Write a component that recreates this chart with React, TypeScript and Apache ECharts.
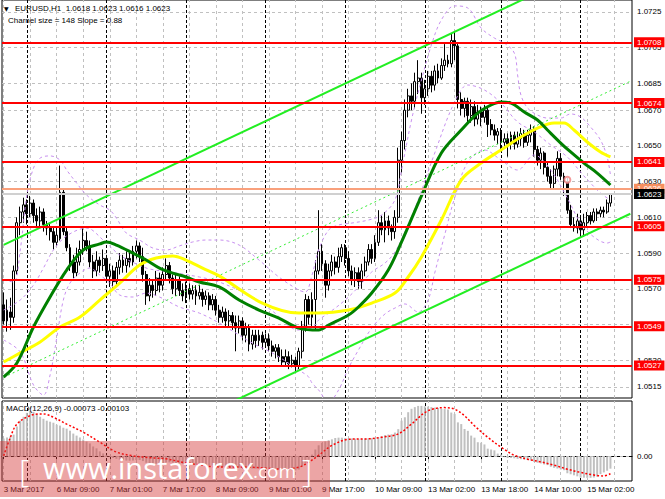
import React, { useEffect, useRef } from 'react';
import * as echarts from 'echarts';

const FONT = "'Liberation Sans', Arial, sans-serif";

// ---------- axis data ----------
const categories = Array.from({ length: 190 }, (_, i) => String(i));
const xTickLabels: [number, string][] = [
  [0, '3 Mar 2017'], [16, '6 Mar 09:00'], [32, '7 Mar 01:00'], [48, '7 Mar 17:00'],
  [64, '8 Mar 09:00'], [80, '9 Mar 01:00'], [96, '9 Mar 17:00'], [112, '10 Mar 09:00'],
  [128, '13 Mar 02:00'], [144, '13 Mar 18:00'], [160, '14 Mar 10:00'], [176, '15 Mar 02:00'],
];
const gridBars = [0, 8, 16, 24, 32, 40, 48, 56, 64, 72, 80, 88, 96, 104, 112, 120, 128, 136, 144, 152, 160, 168, 176, 184];
const daySeparators = [7, 31, 55, 79, 103, 127, 150, 174];
const priceTicks = [1.0725, 1.0705, 1.0685, 1.067, 1.065, 1.063, 1.061, 1.059, 1.057, 1.055, 1.053, 1.0515];
const levels = [1.0708, 1.0674, 1.0641, 1.0605, 1.0575, 1.0549, 1.0527];
const askPrice = 1.0626;
const bidPrice = 1.0623;
const macdTicks = [0.00297, 0, -0.00144];
const channelInfo = { size: 148, slope: 0.88 };

// ---------- candles [open, close, low, high] ----------
const candles: number[][] = [
  [1.0561, 1.0552, 1.0550, 1.0568], [1.0552, 1.0558, 1.0546, 1.0564], [1.0557, 1.0554, 1.0547, 1.0565], [1.0554, 1.0580, 1.0551, 1.0583],
  [1.0580, 1.0607, 1.0578, 1.0610], [1.0607, 1.0613, 1.0600, 1.0616], [1.0613, 1.0617, 1.0607, 1.0621], [1.0617, 1.0612, 1.0606, 1.0620],
  [1.0612, 1.0618, 1.0610, 1.0622], [1.0618, 1.0611, 1.0607, 1.0620], [1.0611, 1.0608, 1.0604, 1.0615], [1.0608, 1.0613, 1.0605, 1.0616],
  [1.0613, 1.0606, 1.0602, 1.0615], [1.0606, 1.0604, 1.0600, 1.0608], [1.0604, 1.0602, 1.0597, 1.0607], [1.0602, 1.0596, 1.0592, 1.0604],
  [1.0596, 1.0600, 1.0594, 1.0604], [1.0598, 1.0624, 1.0597, 1.0639], [1.0624, 1.0602, 1.0600, 1.0626], [1.0602, 1.0593, 1.0591, 1.0604],
  [1.0593, 1.0585, 1.0580, 1.0595], [1.0585, 1.0579, 1.0576, 1.0589], [1.0579, 1.0585, 1.0577, 1.0593], [1.0585, 1.0592, 1.0583, 1.0597],
  [1.0592, 1.0597, 1.0589, 1.0605], [1.0597, 1.0594, 1.0591, 1.0602], [1.0594, 1.0585, 1.0582, 1.0597], [1.0585, 1.0580, 1.0576, 1.0589],
  [1.0580, 1.0586, 1.0577, 1.0591], [1.0586, 1.0583, 1.0579, 1.0588], [1.0583, 1.0587, 1.0580, 1.0592], [1.0587, 1.0577, 1.0574, 1.0589],
  [1.0577, 1.0580, 1.0571, 1.0584], [1.0580, 1.0574, 1.0570, 1.0583], [1.0574, 1.0582, 1.0572, 1.0585], [1.0582, 1.0586, 1.0578, 1.0590],
  [1.0586, 1.0583, 1.0579, 1.0589], [1.0583, 1.0587, 1.0579, 1.0591], [1.0587, 1.0585, 1.0582, 1.0591], [1.0585, 1.0591, 1.0583, 1.0594],
  [1.0591, 1.0594, 1.0587, 1.0597], [1.0594, 1.0588, 1.0585, 1.0596], [1.0588, 1.0578, 1.0574, 1.0593], [1.0578, 1.0566, 1.0561, 1.0580],
  [1.0566, 1.0572, 1.0563, 1.0576], [1.0572, 1.0569, 1.0565, 1.0575], [1.0569, 1.0576, 1.0566, 1.0580], [1.0576, 1.0572, 1.0568, 1.0579],
  [1.0572, 1.0578, 1.0569, 1.0582], [1.0578, 1.0583, 1.0575, 1.0587], [1.0583, 1.0576, 1.0573, 1.0585], [1.0576, 1.0570, 1.0567, 1.0578],
  [1.0570, 1.0575, 1.0566, 1.0578], [1.0575, 1.0569, 1.0566, 1.0577], [1.0569, 1.0566, 1.0563, 1.0573], [1.0566, 1.0570, 1.0562, 1.0574],
  [1.0570, 1.0567, 1.0564, 1.0573], [1.0567, 1.0569, 1.0564, 1.0572], [1.0569, 1.0566, 1.0561, 1.0572], [1.0566, 1.0568, 1.0564, 1.0572],
  [1.0568, 1.0564, 1.0560, 1.0570], [1.0564, 1.0566, 1.0561, 1.0569], [1.0566, 1.0561, 1.0558, 1.0568], [1.0561, 1.0564, 1.0558, 1.0567],
  [1.0564, 1.0558, 1.0555, 1.0566], [1.0558, 1.0554, 1.0551, 1.0561], [1.0554, 1.0557, 1.0551, 1.0560], [1.0557, 1.0552, 1.0549, 1.0559],
  [1.0552, 1.0555, 1.0549, 1.0558], [1.0555, 1.0551, 1.0547, 1.0557], [1.0551, 1.0548, 1.0535, 1.0555], [1.0548, 1.0552, 1.0545, 1.0555],
  [1.0552, 1.0544, 1.0541, 1.0554], [1.0544, 1.0548, 1.0540, 1.0551], [1.0548, 1.0539, 1.0535, 1.0550], [1.0539, 1.0544, 1.0536, 1.0547],
  [1.0544, 1.0541, 1.0537, 1.0547], [1.0541, 1.0544, 1.0538, 1.0547], [1.0544, 1.0540, 1.0536, 1.0546], [1.0540, 1.0542, 1.0537, 1.0545],
  [1.0542, 1.0538, 1.0535, 1.0545], [1.0538, 1.0535, 1.0532, 1.0541], [1.0535, 1.0537, 1.0531, 1.0539], [1.0537, 1.0532, 1.0529, 1.0539],
  [1.0532, 1.0529, 1.0527, 1.0536], [1.0529, 1.0532, 1.0527, 1.0536], [1.0532, 1.0528, 1.0525, 1.0535], [1.0528, 1.0530, 1.0526, 1.0533],
  [1.0530, 1.0527, 1.0524, 1.0532], [1.0527, 1.0535, 1.0525, 1.0537], [1.0535, 1.0549, 1.0531, 1.0552], [1.0549, 1.0564, 1.0546, 1.0567],
  [1.0564, 1.0554, 1.0550, 1.0566], [1.0554, 1.0564, 1.0549, 1.0568], [1.0564, 1.0580, 1.0547, 1.0586], [1.0580, 1.0591, 1.0578, 1.0614],
  [1.0591, 1.0584, 1.0580, 1.0595], [1.0584, 1.0572, 1.0565, 1.0586], [1.0572, 1.0580, 1.0569, 1.0584], [1.0580, 1.0585, 1.0577, 1.0589],
  [1.0585, 1.0582, 1.0578, 1.0588], [1.0582, 1.0588, 1.0579, 1.0593], [1.0588, 1.0593, 1.0585, 1.0595], [1.0593, 1.0587, 1.0583, 1.0595],
  [1.0587, 1.0580, 1.0577, 1.0591], [1.0580, 1.0575, 1.0572, 1.0583], [1.0575, 1.0579, 1.0571, 1.0582], [1.0579, 1.0574, 1.0570, 1.0582],
  [1.0574, 1.0580, 1.0570, 1.0584], [1.0580, 1.0585, 1.0577, 1.0588], [1.0585, 1.0592, 1.0583, 1.0595], [1.0592, 1.0587, 1.0584, 1.0595],
  [1.0587, 1.0596, 1.0585, 1.0600], [1.0596, 1.0607, 1.0594, 1.0614], [1.0607, 1.0603, 1.0600, 1.0611], [1.0603, 1.0608, 1.0596, 1.0613],
  [1.0608, 1.0604, 1.0600, 1.0611], [1.0604, 1.0602, 1.0597, 1.0606], [1.0602, 1.0610, 1.0598, 1.0614], [1.0610, 1.0642, 1.0607, 1.0649],
  [1.0642, 1.0653, 1.0635, 1.0658], [1.0653, 1.0670, 1.0648, 1.0676], [1.0670, 1.0678, 1.0666, 1.0682], [1.0678, 1.0675, 1.0670, 1.0685],
  [1.0675, 1.0686, 1.0671, 1.0691], [1.0686, 1.0688, 1.0679, 1.0698], [1.0688, 1.0677, 1.0668, 1.0691], [1.0677, 1.0682, 1.0673, 1.0687],
  [1.0682, 1.0689, 1.0678, 1.0692], [1.0689, 1.0684, 1.0680, 1.0692], [1.0684, 1.0692, 1.0681, 1.0695], [1.0692, 1.0688, 1.0685, 1.0696],
  [1.0688, 1.0695, 1.0687, 1.0699], [1.0695, 1.0698, 1.0692, 1.0707], [1.0698, 1.0696, 1.0694, 1.0701], [1.0696, 1.0709, 1.0694, 1.0713],
  [1.0709, 1.0706, 1.0698, 1.0714], [1.0706, 1.0676, 1.0671, 1.0708], [1.0676, 1.0671, 1.0667, 1.0680], [1.0671, 1.0675, 1.0666, 1.0677],
  [1.0675, 1.0667, 1.0663, 1.0677], [1.0667, 1.0672, 1.0663, 1.0676], [1.0672, 1.0665, 1.0661, 1.0675], [1.0665, 1.0669, 1.0662, 1.0673],
  [1.0669, 1.0666, 1.0661, 1.0672], [1.0666, 1.0670, 1.0663, 1.0673], [1.0670, 1.0662, 1.0655, 1.0672], [1.0662, 1.0659, 1.0656, 1.0665],
  [1.0659, 1.0656, 1.0653, 1.0662], [1.0656, 1.0658, 1.0651, 1.0660], [1.0658, 1.0652, 1.0648, 1.0660], [1.0652, 1.0654, 1.0650, 1.0657],
  [1.0654, 1.0651, 1.0644, 1.0657], [1.0651, 1.0656, 1.0648, 1.0658], [1.0656, 1.0651, 1.0648, 1.0658], [1.0651, 1.0654, 1.0649, 1.0658],
  [1.0654, 1.0657, 1.0650, 1.0660], [1.0657, 1.0652, 1.0649, 1.0659], [1.0652, 1.0656, 1.0650, 1.0659], [1.0656, 1.0659, 1.0652, 1.0662],
  [1.0659, 1.0648, 1.0644, 1.0661], [1.0648, 1.0642, 1.0639, 1.0650], [1.0642, 1.0646, 1.0637, 1.0649], [1.0646, 1.0638, 1.0634, 1.0647],
  [1.0638, 1.0633, 1.0630, 1.0641], [1.0633, 1.0629, 1.0626, 1.0637], [1.0629, 1.0637, 1.0626, 1.0639], [1.0637, 1.0643, 1.0633, 1.0647],
  [1.0643, 1.0633, 1.0631, 1.0646], [1.0633, 1.0630, 1.0622, 1.0635], [1.0630, 1.0614, 1.0612, 1.0632], [1.0614, 1.0606, 1.0604, 1.0617],
  [1.0606, 1.0604, 1.0602, 1.0610], [1.0604, 1.0608, 1.0601, 1.0612], [1.0608, 1.0603, 1.0600, 1.0611], [1.0603, 1.0607, 1.0599, 1.0612],
  [1.0607, 1.0611, 1.0605, 1.0613], [1.0611, 1.0608, 1.0606, 1.0613], [1.0608, 1.0613, 1.0607, 1.0615], [1.0613, 1.0612, 1.0608, 1.0615],
  [1.0612, 1.0614, 1.0610, 1.0616], [1.0614, 1.0613, 1.0610, 1.0616], [1.0613, 1.0618, 1.0612, 1.0620], [1.0618, 1.0623, 1.0616, 1.0623],
];

// ---------- indicator lines [bar, price] ----------
const maGreen = [
  [0, 1.05206], [4, 1.05284], [9, 1.05486], [14, 1.05654], [19, 1.05805], [24, 1.05917], [29, 1.05951], [31, 1.05962],
  [34, 1.05945], [39, 1.059], [43, 1.05861], [47, 1.05816], [51, 1.05788], [55, 1.05766], [59, 1.05738], [65, 1.0571],
  [71, 1.05637], [77, 1.05581], [83, 1.05536], [89, 1.0548], [95, 1.05469], [98, 1.05497], [104, 1.05553], [107, 1.05598],
  [111, 1.05676], [116, 1.05805], [120, 1.05962], [126, 1.0622], [132, 1.0646], [138, 1.06589], [143, 1.06684], [147, 1.06729],
  [150, 1.06746], [153, 1.0674], [157, 1.0669], [161, 1.06645], [164, 1.06589], [168, 1.06516], [171, 1.06466], [175, 1.06404],
  [179, 1.06348], [183, 1.06281],
];
const maYellow = [
  [0, 1.0529], [5, 1.05341], [11, 1.05402], [17, 1.05486], [23, 1.05542], [29, 1.05637], [35, 1.05732], [41, 1.05833],
  [46, 1.05872], [51, 1.05884], [55, 1.05861], [60, 1.05816], [65, 1.05772], [78, 1.0562], [89, 1.05564], [95, 1.05564],
  [104, 1.05581], [111, 1.0562], [118, 1.05676], [122, 1.05766], [126, 1.05878], [132, 1.06085], [138, 1.06309], [144, 1.06404],
  [150, 1.06477], [156, 1.0655], [161, 1.066], [166, 1.06628], [169, 1.06628], [172, 1.06589], [176, 1.06522], [180, 1.06466],
  [183, 1.06438],
];
const bbUpper = [
  [0, 1.05749], [3, 1.05738], [5, 1.05917], [7, 1.06225], [9, 1.06376], [11, 1.06432], [14, 1.06444], [17, 1.06421],
  [19, 1.06365], [22, 1.06292], [25, 1.06225], [29, 1.06169], [32, 1.06141], [34, 1.06096], [37, 1.06012], [41, 1.05973],
  [45, 1.05928], [49, 1.05917], [53, 1.0594], [57, 1.05962], [61, 1.05973], [65, 1.05973], [71, 1.05945], [77, 1.05861],
  [83, 1.05766], [89, 1.05693], [91, 1.05682], [93, 1.05777], [95, 1.05917], [98, 1.06029], [101, 1.06057], [105, 1.06068],
  [110, 1.06085], [114, 1.06113], [118, 1.06197], [120, 1.06365], [123, 1.06645], [126, 1.06869], [129, 1.07065], [132, 1.07205],
  [136, 1.07284], [140, 1.07272], [144, 1.0716], [148, 1.07104], [151, 1.07076], [154, 1.0702], [155, 1.06897], [156, 1.06785],
  [158, 1.06712], [161, 1.06673], [164, 1.06656], [168, 1.06656], [171, 1.06679], [174, 1.06662], [177, 1.06606], [180, 1.06533],
  [182, 1.06438], [183, 1.06337],
];
const bbMiddle = [
  [0, 1.05581], [5, 1.05637], [9, 1.05721], [12, 1.05816], [15, 1.05917], [19, 1.05996], [25, 1.0604], [30, 1.05973],
  [35, 1.05889], [40, 1.05839], [44, 1.05811], [50, 1.05794], [59, 1.05766], [65, 1.05738], [75, 1.05654], [81, 1.05576],
  [89, 1.05469], [93, 1.0548], [95, 1.05525], [98, 1.05564], [103, 1.05637], [107, 1.0571], [111, 1.05794], [115, 1.05844],
  [118, 1.05906], [121, 1.06018], [125, 1.06197], [130, 1.0646], [136, 1.06746], [140, 1.06841], [145, 1.06813], [150, 1.0674],
  [155, 1.06634], [160, 1.06578], [165, 1.06505], [170, 1.06438], [175, 1.06332], [180, 1.06236], [183, 1.06197],
];
const bbLower = [
  [0, 1.05413], [5, 1.05346], [9, 1.05161], [12, 1.05105], [14, 1.05217], [16, 1.05424], [18, 1.05637], [20, 1.05732],
  [23, 1.05788], [26, 1.05816], [29, 1.05777], [32, 1.05732], [35, 1.05665], [39, 1.05654], [43, 1.05676], [47, 1.05654],
  [53, 1.05598], [59, 1.05564], [65, 1.05508], [75, 1.05396], [81, 1.05341], [89, 1.05245], [92, 1.05206], [93, 1.05172],
  [95, 1.05133], [98, 1.05066], [101, 1.05133], [104, 1.05256], [107, 1.05357], [111, 1.0548], [115, 1.05559], [118, 1.05592],
  [121, 1.05615], [125, 1.0557], [128, 1.05637], [130, 1.05788], [133, 1.06001], [136, 1.06208], [140, 1.0641], [145, 1.06477],
  [150, 1.06421], [155, 1.06365], [160, 1.06449], [165, 1.06365], [170, 1.06208], [174, 1.06068], [178, 1.0599], [182, 1.05956],
  [183, 1.05962],
];
const channelUpper = [[0, 1.05946], [189, 1.07604]];
const channelLower = [[0, 1.04462], [189, 1.0612]];
const channelMid = [[0, 1.05204], [189, 1.06862]];
const orderMark = [[170, 1.0631]];

// ---------- MACD ----------
const macdHist = [
  0.00105, 0.00111, 0.00116, 0.00128, 0.00175, 0.0021, 0.00233, 0.00256, 0.00268, 0.00262, 0.0025, 0.00233, 0.00221, 0.0021, 0.00204, 0.00198,
  0.00186, 0.00181, 0.00169, 0.00163, 0.00151, 0.00134, 0.00122, 0.00111, 0.00099, 0.00087, 0.00076, 0.00058, 0.00047, 0.00029, 0.00017, 0.00006,
  -0.00003, -0.0001, -0.00015, -0.0002, -0.00022, -0.00025, -0.00026, -0.00025, -0.00022, -0.00022, -0.00028, -0.00038, -0.00042, -0.00045, -0.00044, -0.00043,
  -0.0004, -0.00036, -0.00036, -0.00038, -0.0004, -0.00042, -0.00045, -0.00046, -0.00047, -0.00048, -0.0005, -0.0005, -0.00052, -0.00052, -0.00054, -0.00055,
  -0.00058, -0.00062, -0.00063, -0.00065, -0.00065, -0.00067, -0.00068, -0.00067, -0.0007, -0.0007, -0.00073, -0.00072, -0.00072, -0.00071, -0.00072, -0.00071,
  -0.00073, -0.00075, -0.00075, -0.00077, -0.0008, -0.0008, -0.00082, -0.00082, -0.00083, -0.00078, -0.0006, -0.0004, -0.0002, 0.0001, 0.0004, 0.00065,
  0.0008, 0.00088, 0.00095, 0.001, 0.00108, 0.0011, 0.0011, 0.00108, 0.00106, 0.00105, 0.00104, 0.00104, 0.00104, 0.00105, 0.00106, 0.00107,
  0.00108, 0.00112, 0.00118, 0.00125, 0.00128, 0.0013, 0.0014, 0.0016, 0.0021, 0.0023, 0.0026, 0.0028, 0.0029, 0.00297, 0.00297, 0.00295,
  0.00293, 0.0029, 0.00287, 0.00285, 0.0028, 0.00278, 0.00276, 0.00258, 0.0025, 0.002, 0.0019, 0.00161, 0.0015, 0.00122, 0.0011, 0.00083,
  0.0008, 0.0007, 0.00045, 0.0004, 0.00035, 0.00016, 0.0001, -0.00005, -0.0001, -0.0001, -0.00012, -0.00015, -0.00017, -0.0002, -0.00022, -0.00025,
  -0.00033, -0.00038, -0.00042, -0.00048, -0.00052, -0.00062, -0.00068, -0.00072, -0.00078, -0.00082, -0.001, -0.00106, -0.00112, -0.00118, -0.00126, -0.00126,
  -0.00127, -0.00127, -0.00125, -0.0012, -0.00105, -0.00095, -0.00085, -0.00073,
];
const macdSignal = [
  [0, 0.00003], [2, 0.0011], [4, 0.0019], [8, 0.0024], [12, 0.0025], [15, 0.0023], [19, 0.0019], [24, 0.00142],
  [29, 0.00083], [34, 0.00025], [39, 0.00003], [44, -0.00008], [49, -0.00015], [54, -0.00035], [59, -0.0005], [64, -0.00062],
  [74, -0.00064], [79, -0.0007], [84, -0.00076], [89, -0.00064], [92, -0.00035], [95, 0.00006], [99, 0.00064], [104, 0.001],
  [110, 0.00103], [114, 0.00112], [119, 0.00132], [123, 0.0019], [127, 0.00258], [130, 0.00281], [133, 0.00287], [136, 0.00278],
  [139, 0.00239], [142, 0.0018], [146, 0.00112], [150, 0.00054], [154, 0.00006], [158, -0.00017], [162, -0.00033], [166, -0.00052],
  [170, -0.00076], [174, -0.00095], [178, -0.0011], [181, -0.00116], [183, -0.00103],
];

const labelMap: Record<number, string> = {};
xTickLabels.forEach(([i, t]) => { labelMap[i] = t; });

function buildOption() {
  const last = candles[candles.length - 1];
  const lastHist = macdHist[macdHist.length - 1];
  const lastSig = macdSignal[macdSignal.length - 1][1];

  const vGrid = gridBars.map((b) => ({ xAxis: String(b), lineStyle: { color: '#c0c0c0', type: [3, 3], width: 1 }, label: { show: false } }));
  const vSep = daySeparators.map((b) => ({ xAxis: String(b), lineStyle: { color: '#000', type: [3, 2], width: 1 }, label: { show: false } }));
  const hGrid = priceTicks.map((v) => ({
    yAxis: v,
    lineStyle: { color: '#c0c0c0', type: [3, 3], width: 1 },
    label: { show: true, position: 'end', formatter: v.toFixed(4), color: '#000', fontSize: 8, fontFamily: FONT, distance: 5 },
  }));
  const redLevels = levels.map((v) => ({
    yAxis: v,
    lineStyle: { color: '#ff0000', type: 'solid', width: 2 },
    label: { show: true, position: 'end', formatter: v.toFixed(4), color: '#fff', backgroundColor: '#ff0000', padding: [1, 3, 1, 3], fontSize: 8, fontFamily: FONT, distance: 2 },
  }));
  const askLine = {
    yAxis: askPrice,
    lineStyle: { color: '#f9a07c', type: 'solid', width: 2 },
    label: { show: true, position: 'end', formatter: askPrice.toFixed(4), color: '#fff', backgroundColor: '#f7905f', padding: [1, 3, 1, 3], fontSize: 8, fontFamily: FONT, distance: 2 },
  };
  const bidLine = {
    yAxis: bidPrice,
    lineStyle: { color: '#d0d0d0', type: 'solid', width: 2 },
    label: { show: true, position: 'end', formatter: bidPrice.toFixed(4), color: '#fff', backgroundColor: '#000', padding: [1, 3, 1, 3], fontSize: 8, fontFamily: FONT, distance: 2 },
  };
  const macdLabels = macdTicks.map((v) => ({
    yAxis: v,
    lineStyle: v === 0 ? { color: '#c0c0c0', type: [3, 3], width: 1 } : { opacity: 0 },
    label: { show: true, position: 'end', formatter: v === 0 ? '0.00' : v.toFixed(5), color: '#000', fontSize: 8, fontFamily: FONT, distance: v < 0 ? 1 : 5 },
  }));

  const band = (name: string, data: number[][], color: string, width: number, type: any, z: number, smooth = 0.35) => ({
    type: 'line', name, data, xAxisIndex: 0, yAxisIndex: 0, showSymbol: false, symbol: 'none', smooth, z, silent: true,
    lineStyle: { color, width, type },
  });

  return {
    animation: false,
    backgroundColor: '#ffffff',
    grid: [
      { left: 2, top: 0, width: 630, height: 398, show: true, borderColor: '#000', borderWidth: 1, backgroundColor: '#fff' },
      { left: 2, top: 401, width: 630, height: 80, show: true, borderColor: '#000', borderWidth: 1, backgroundColor: '#fff' },
    ],
    xAxis: [
      { type: 'category', gridIndex: 0, data: categories, boundaryGap: true, show: false },
      {
        type: 'category', gridIndex: 1, data: categories, boundaryGap: true,
        axisLine: { show: true, lineStyle: { color: '#000' } },
        axisTick: { show: true, alignWithLabel: true, length: 3, interval: (i: number) => labelMap[i] !== undefined, lineStyle: { color: '#000' } },
        axisLabel: {
          show: true, interval: (i: number) => labelMap[i] !== undefined,
          formatter: (_v: string, i: number) => labelMap[i] || '',
          align: 'left', color: '#000', fontSize: 8, fontFamily: FONT, margin: 4,
        },
        splitLine: { show: false },
      },
    ],
    yAxis: [
      { type: 'value', gridIndex: 0, min: 1.050884, max: 1.07317, show: false, splitLine: { show: false } },
      { type: 'value', gridIndex: 1, min: -0.001456, max: 0.00326, show: false, splitLine: { show: false } },
    ],
    series: [
      {
        type: 'line', name: 'grid', data: [], xAxisIndex: 0, yAxisIndex: 0, z: 1, silent: true,
        markLine: { silent: true, precision: 6, symbol: ['none', 'none'], z: 1, animation: false, data: [...hGrid, ...vGrid, ...vSep] },
      },
      {
        type: 'candlestick', name: 'EURUSD', data: candles, xAxisIndex: 0, yAxisIndex: 0, z: 3, barWidth: 2.4, silent: true,
        itemStyle: { color: '#ffffff', color0: '#000000', borderColor: '#000000', borderColor0: '#000000', borderWidth: 1 },
      },
      band('bbUpper', bbUpper, '#c890f0', 1, [3, 3], 4),
      band('bbMiddle', bbMiddle, '#c890f0', 1, [3, 3], 4),
      band('bbLower', bbLower, '#c890f0', 1, [3, 3], 4),
      band('channelMid', channelMid, '#33ee33', 1, [2, 3], 5, 0),
      band('channelUpper', channelUpper, '#22ee22', 2, 'solid', 5, 0),
      band('channelLower', channelLower, '#22ee22', 2, 'solid', 5, 0),
      band('maYellow', maYellow, '#ffff00', 3, 'solid', 6),
      band('maGreen', maGreen, '#008000', 3, 'solid', 6),
      {
        type: 'scatter', name: 'order', data: orderMark, xAxisIndex: 0, yAxisIndex: 0, z: 7, silent: true,
        symbol: 'emptyCircle', symbolSize: 6, itemStyle: { color: '#f08080', borderColor: '#f08080', borderWidth: 1 },
      },
      {
        type: 'line', name: 'levels', data: [], xAxisIndex: 0, yAxisIndex: 0, z: 8, silent: true,
        markLine: { silent: true, precision: 6, symbol: ['none', 'none'], z: 8, animation: false, data: [...redLevels, askLine, bidLine] },
      },
      {
        type: 'line', name: 'macdGrid', data: [], xAxisIndex: 1, yAxisIndex: 1, z: 1, silent: true,
        markLine: { silent: true, precision: 8, symbol: ['none', 'none'], z: 1, animation: false, data: [...vGrid, ...vSep, ...macdLabels] },
      },
      {
        type: 'bar', name: 'MACD', data: macdHist, xAxisIndex: 1, yAxisIndex: 1, z: 3, barWidth: 2, silent: true,
        itemStyle: { color: '#c0c0c0' },
      },
      {
        type: 'line', name: 'Signal', data: macdSignal, xAxisIndex: 1, yAxisIndex: 1, z: 4, showSymbol: false, symbol: 'none', smooth: 0.35, silent: true,
        lineStyle: { color: '#ff0000', width: 1.5, type: [2, 2] },
      },
    ],
    graphic: [
      { type: 'text', x: 4, y: 8, z: 50, style: { text: '▼', font: `6px 'DejaVu Sans'`, fill: '#000', verticalAlign: 'middle' } },
      { type: 'text', x: 15, y: 8, z: 50, style: { text: `EURUSD,H1  ${last[0].toFixed(4)} ${last[3].toFixed(4)} ${last[2].toFixed(4)} ${last[1].toFixed(4)}`, font: `8px ${FONT}`, fill: '#000', verticalAlign: 'middle' } },
      { type: 'text', x: 8, y: 20, z: 50, style: { text: `Charnel size = ${channelInfo.size} Slope = ${channelInfo.slope.toFixed(2)}`, font: `8px ${FONT}`, fill: '#000', verticalAlign: 'middle' } },
      { type: 'text', x: 6, y: 408, z: 50, style: { text: `MACD(12,26,9) ${lastHist.toFixed(5)} ${lastSig.toFixed(5)}`, font: `8px ${FONT}`, fill: '#000', verticalAlign: 'middle' } },
      { type: 'rect', z: 60, shape: { x: 0, y: 441, width: 330, height: 56 }, style: { fill: 'rgba(212,55,55,0.45)' } },
      { type: 'text', x: 19, y: 469, z: 61, style: { text: '[', font: `300 32px 'Open Sans'`, fill: '#fff', verticalAlign: 'middle' } },
      { type: 'text', x: 43, y: 467, z: 61, style: { text: 'www.instaforex', font: `29px 'Open Sans'`, fill: '#fff', verticalAlign: 'middle' } },
      { type: 'text', x: 253, y: 471, z: 61, style: { text: '.com', font: `19px 'Open Sans'`, fill: '#fff', verticalAlign: 'middle' } },
      { type: 'text', x: 302, y: 469, z: 61, style: { text: ']', font: `300 32px 'Open Sans'`, fill: '#fff', verticalAlign: 'middle' } },
    ],
  };
}

export default function App() {
  const ref = useRef<HTMLDivElement>(null);
  useEffect(() => {
    if (!ref.current) return;
    const chart = echarts.init(ref.current, null, { renderer: 'svg' });
    chart.setOption(buildOption() as any);
    return () => chart.dispose();
  }, []);
  return <div ref={ref} style={{ position: 'absolute', left: 0, top: 0, width: 665, height: 499, background: '#fff' }} />;
}
